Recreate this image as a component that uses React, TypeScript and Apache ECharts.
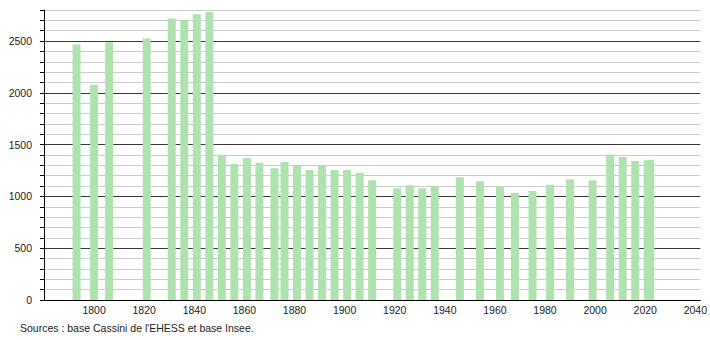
import React, { useEffect, useRef } from "react";
import * as echarts from "echarts";

const years = [
  1793, 1800, 1806, 1821, 1831, 1836, 1841, 1846, 1851, 1856, 1861, 1866, 1872,
  1876, 1881, 1886, 1891, 1896, 1901, 1906, 1911, 1921, 1926, 1931, 1936, 1946,
  1954, 1962, 1968, 1975, 1982, 1990, 1999, 2006, 2011, 2016, 2021, 2022,
];
const population = [
  2466, 2078, 2489, 2525, 2719, 2706, 2760, 2780, 1390, 1312, 1370, 1325, 1273,
  1332, 1303, 1254, 1303, 1254, 1254, 1228, 1157, 1080, 1109, 1080, 1096, 1186,
  1147, 1096, 1034, 1053, 1112, 1167, 1157, 1406, 1380, 1341, 1350, 1355,
];
const xTickLabels = [1800, 1820, 1840, 1860, 1880, 1900, 1920, 1940, 1960, 1980, 2000, 2020, 2040];
const yTickLabels = [0, 500, 1000, 1500, 2000, 2500];
const sourceText = "Sources : base Cassini de l'EHESS et base Insee.";

const FONT = "'Liberation Sans', Arial, sans-serif";

export default function App() {
  const ref = useRef<HTMLDivElement>(null);
  useEffect(() => {
    document.body.style.margin = "0";
    if (!ref.current) return;
    const chart = echarts.init(ref.current, null, { renderer: "svg" });
    chart.setOption({
      animation: false,
      backgroundColor: "#ffffff",
      textStyle: { fontFamily: FONT },
      grid: { left: 44, right: 9, top: 10, bottom: 40, containLabel: false },
      xAxis: {
        type: "value",
        min: 1780,
        max: 2042,
        interval: 20,
        axisLine: { show: true, lineStyle: { color: "#000", width: 1 } },
        axisTick: { show: false },
        splitLine: { show: false },
        axisLabel: {
          customValues: xTickLabels,
          color: "#222",
          fontSize: 10.5,
          fontFamily: FONT,
          margin: 4,
          formatter: (v: number) => String(v),
        },
      },
      yAxis: {
        type: "value",
        min: 0,
        max: 2800,
        interval: 100,
        axisLine: { show: true, lineStyle: { color: "#000", width: 1 } },
        axisTick: { show: true, length: 4, lineStyle: { color: "#000" } },
        axisLabel: {
          customValues: yTickLabels,
          color: "#222",
          fontSize: 10.5,
          fontFamily: FONT,
          margin: 12,
          formatter: (v: number) => String(v),
        },
        splitLine: {
          show: true,
          lineStyle: {
            color: ["#3a3a3a", "#cccccc", "#cccccc", "#cccccc", "#cccccc"],
            width: 1,
          },
        },
      },
      series: [
        {
          type: "bar",
          data: years.map((y, i) => [y, population[i]]),
          barWidth: 8,
          itemStyle: { color: "#aee3b0" },
        },
      ],
      graphic: [
        {
          type: "text",
          left: 20,
          top: 322,
          style: {
            text: sourceText,
            fill: "#222",
            font: `10.5px ${FONT}`,
          },
        },
      ],
    });
    return () => chart.dispose();
  }, []);
  return <div ref={ref} style={{ width: 710, height: 340 }} />;
}
